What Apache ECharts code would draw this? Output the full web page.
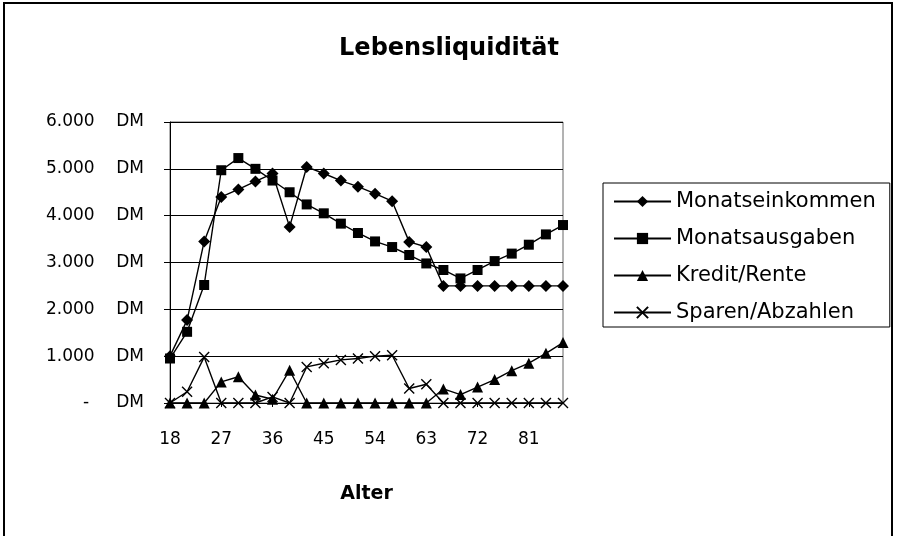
<!DOCTYPE html>
<html>
<head>
<meta charset="utf-8">
<script src="https://cdn.jsdelivr.net/npm/echarts@6/dist/echarts.min.js"></script>
<style>
html,body{margin:0;padding:0;background:#fff;}
#c{width:898px;height:536px;}
</style>
</head>
<body>
<div id="c"></div>
<script>
const ages = [18,21,24,27,30,33,36,39,42,45,48,51,54,57,60,63,66,69,72,75,78,81,84,87];
const monatseinkommen = [1000,1770,3450,4400,4560,4730,4900,3760,5040,4900,4750,4620,4470,4310,3440,3330,2500,2500,2500,2500,2500,2500,2500,2500];
const monatsausgaben  = [950,1520,2520,4970,5230,5000,4750,4500,4240,4050,3830,3630,3450,3330,3160,2980,2840,2660,2840,3030,3190,3380,3600,3800];
const kreditRente     = [0,0,0,450,560,170,80,700,0,0,0,0,0,0,0,0,300,180,340,500,690,850,1060,1290];
const sparenAbzahlen  = [0,240,980,0,0,0,130,0,770,850,920,950,1000,1020,310,400,0,0,0,0,0,0,0,0];
const seriesNames = ['Monatseinkommen','Monatsausgaben','Kredit/Rente','Sparen/Abzahlen'];
const yTicks = {min:0, max:6000, interval:1000};

const FONT = 'DejaVu Sans';
function fmtDM(v){
  if (v === 0) return '-     DM';
  return String(v).replace(/\B(?=(\d{3})+(?!\d))/g, '.') + '    DM';
}
const xSym = 'path://M0,0L10,10M10,0L0,10';

function mk(name, data, symbol, size, isX){
  return {
    name: name, type: 'line', data: data,
    symbol: symbol, symbolSize: size, showSymbol: true, showAllSymbol: true,
    lineStyle: {color:'#000', width:1.4},
    itemStyle: isX ? {color:'rgba(0,0,0,0)', borderColor:'#000', borderWidth:1.4}
                   : {color:'#000', borderColor:'#000', borderWidth:0},
    emphasis: {disabled:true},
    animation: false
  };
}

const chart = echarts.init(document.getElementById('c'));
chart.setOption({
  backgroundColor: '#fff',
  animation: false,
  title: {
    text: 'Lebensliquidität', left: 'center', top: 32,
    textStyle: {fontFamily: FONT, fontSize: 24, fontWeight: 'bold', color: '#000'}
  },
  graphic: [{
    type: 'rect', shape: {x: 4, y: 3, width: 888, height: 600},
    style: {fill: 'none', stroke: '#000', lineWidth: 2}, silent: true, z: -1
  }],
  legend: {
    orient: 'vertical', left: 603, top: 183,
    borderColor: '#000', borderWidth: 1,
    padding: [8, 14, 4, 10],
    itemWidth: 57, itemHeight: 14, itemGap: 16,
    textStyle: {fontFamily: FONT, fontSize: 21, color: '#000'},
    data: seriesNames
  },
  grid: {left: 170, right: 335, top: 122, bottom: 133, show: true, borderColor: '#666', borderWidth: 1},
  xAxis: {
    type: 'category', data: ages, boundaryGap: false,
    name: 'Alter', nameLocation: 'middle', nameGap: 82,
    nameTextStyle: {fontFamily: FONT, fontSize: 19, fontWeight: 'bold', color: '#000'},
    axisLine: {lineStyle: {color: '#000', width: 1}},
    axisTick: {show: true, interval: 2, length: 4, lineStyle: {color: '#000'}},
    axisLabel: {interval: 2, margin: 28, fontFamily: FONT, fontSize: 17, color: '#000'},
    splitLine: {show: false}
  },
  yAxis: {
    type: 'value', min: yTicks.min, max: yTicks.max, interval: yTicks.interval,
    axisLine: {show: true, lineStyle: {color: '#000', width: 1}},
    axisTick: {show: true, length: 6, lineStyle: {color: '#000'}},
    axisLabel: {formatter: fmtDM, margin: 26, fontFamily: FONT, fontSize: 17, color: '#000'},
    splitLine: {show: true, lineStyle: {color: '#000', width: 1}}
  },
  series: [
    mk(seriesNames[0], monatseinkommen, 'diamond', 12, false),
    mk(seriesNames[1], monatsausgaben, 'rect', 10, false),
    mk(seriesNames[2], kreditRente, 'triangle', 11, false),
    mk(seriesNames[3], sparenAbzahlen, xSym, 10, true)
  ]
});
</script>
</body>
</html>
